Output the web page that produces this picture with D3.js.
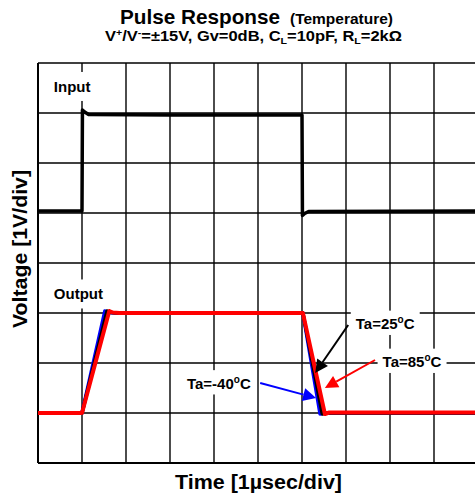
<!DOCTYPE html>
<html><head><meta charset="utf-8">
<script src="https://cdn.jsdelivr.net/npm/d3@7"></script>
<style>
html,body{margin:0;padding:0;background:#fff;}
svg{display:block;font-family:"Liberation Sans",Arial,sans-serif;font-weight:bold;}
</style></head>
<body><svg id="c" width="475" height="500"></svg>
<script>
// time in divisions (1 µs/div), voltage in divisions (1 V/div), measured from bottom of screen
const xDivs = [0,1,2,3,4,5,6,7,8,9,10];
const yDivs = [0,1,2,3,4,5,6,7,8];

const inputT = [0, 1.0, 1.01, 1.06, 1.15, 3.0, 6.0, 6.01, 6.06, 6.15, 10.2];
const inputV = [5.04, 5.04, 7.06, 7.02, 6.97, 6.96, 6.96, 4.95, 4.99, 5.03, 5.04];

const outBlueT  = [0, 1.0, 1.52, 1.6, 1.75, 6.02, 6.41, 6.5, 10.2];
const outBlueV  = [1.0, 1.0, 3.04, 3.01, 3.0, 3.0, 0.98, 1.0, 1.0];
const outBlackT = [0, 1.0, 1.57, 1.65, 1.8, 6.02, 6.46, 6.55, 10.2];
const outBlackV = [1.0, 1.0, 3.04, 3.01, 3.0, 3.0, 0.98, 1.0, 1.0];
const outRedT   = [0, 1.0, 1.62, 1.7, 1.85, 6.02, 6.52, 6.62, 10.2];
const outRedV   = [1.0, 1.0, 3.04, 3.01, 3.0, 3.0, 0.98, 1.01, 1.01];

const annLabels = ["Ta=25", "Ta=85", "Ta=-40"];
const annColors = ["#000", "#f00", "#00f"];
const annTextT = [7.89, 8.5, 4.11];
const annTextV = [2.76, 2.0, 1.57];
const annFromT = [7.05, 7.66, 5.05];
const annFromV = [2.76, 2.06, 1.60];
const annToT   = [6.30, 6.52, 6.32];
const annToV   = [1.80, 1.50, 1.30];

const traceLabels = ["Input", "Output"];
const traceLabelT = [0.36, 0.36];
const traceLabelV = [7.5, 3.35];

const svg = d3.select("#c");
const x = d3.scaleLinear().domain([0,10]).range([38,478]);
const y = d3.scaleLinear().domain([0,8]).range([463,63]);

// grid
const g = svg.append("g");
g.selectAll(".vx").data(xDivs).join("line")
  .attr("x1", d=>x(d)).attr("x2", d=>x(d)).attr("y1", y(8)).attr("y2", y(0))
  .attr("stroke", "#000").attr("stroke-width", d=>d===0?2:1.4);
g.selectAll(".hy").data(yDivs).join("line")
  .attr("y1", d=>y(d)).attr("y2", d=>y(d)).attr("x1", x(0)).attr("x2", x(10))
  .attr("stroke", "#000").attr("stroke-width", d=>(d===0)?2:1.4);

traceLabels.forEach((l,i)=>{
  const t = svg.append("text").attr("x", x(traceLabelT[i])).attr("y", y(traceLabelV[i]))
    .attr("font-size", 15).attr("dominant-baseline","middle").text(l);
  const b = t.node().getBBox();
  svg.insert("rect", "text").attr("x", b.x-5).attr("y", b.y-6).attr("width", b.width+10).attr("height", b.height+12).attr("fill","#fff");
});

const line = d3.line().x(d=>x(d[0])).y(d=>y(d[1]));
const zip = (a,b)=>a.map((v,i)=>[v,b[i]]);

svg.append("path").datum(zip(inputT,inputV)).attr("d", line)
  .attr("fill","none").attr("stroke","#000").attr("stroke-width",3.5).attr("stroke-linejoin","round");
svg.append("path").datum(zip(outBlueT,outBlueV)).attr("d", line)
  .attr("fill","none").attr("stroke","#00f").attr("stroke-width",3.5).attr("stroke-linejoin","round");
svg.append("path").datum(zip(outBlackT,outBlackV)).attr("d", line)
  .attr("fill","none").attr("stroke","#000").attr("stroke-width",3.5).attr("stroke-linejoin","round");
svg.append("path").datum(zip(outRedT,outRedV)).attr("d", line)
  .attr("fill","none").attr("stroke","#f00").attr("stroke-width",4).attr("stroke-linejoin","round");

// annotations
annLabels.forEach((l,i)=>{
  const t = svg.append("text").attr("x", x(annTextT[i])).attr("y", y(annTextV[i]))
    .attr("font-size", 15).attr("text-anchor","middle").attr("dominant-baseline","middle");
  t.append("tspan").text(l);
  t.append("tspan").attr("font-size", 10).attr("dy", -5).text("o");
  t.append("tspan").attr("dy", 5).text("C");
  const b = t.node().getBBox();
  svg.insert("rect", "text").attr("x", b.x-5).attr("y", b.y-3).attr("width", b.width+10).attr("height", b.height+6).attr("fill","#fff");
  const x1 = x(annFromT[i]), y1 = y(annFromV[i]), x2 = x(annToT[i]), y2 = y(annToV[i]);
  const ang = Math.atan2(y2-y1, x2-x1);
  const hl = 13, hw = 6.5;
  const bx = x2 - hl*Math.cos(ang), by = y2 - hl*Math.sin(ang);
  svg.append("line").attr("x1",x1).attr("y1",y1).attr("x2",bx).attr("y2",by)
    .attr("stroke",annColors[i]).attr("stroke-width",2);
  const px = -Math.sin(ang), py = Math.cos(ang);
  svg.append("path").attr("d", `M${x2},${y2}L${bx+hw*px},${by+hw*py}L${bx-hw*px},${by-hw*py}Z`)
    .attr("fill", annColors[i]);
});

// titles
svg.append("text").attr("x", 120).attr("y", 24).attr("font-size", 20.5)
  .attr("textLength", 160).attr("lengthAdjust","spacingAndGlyphs").text("Pulse Response");
svg.append("text").attr("x", 290).attr("y", 24).attr("font-size", 15)
  .attr("textLength", 103).attr("lengthAdjust","spacingAndGlyphs").text("(Temperature)");

const sub = svg.append("text").attr("x", 105).attr("y", 41).attr("font-size", 14)
  .attr("textLength", 297).attr("lengthAdjust","spacingAndGlyphs");
sub.append("tspan").text("V");
sub.append("tspan").attr("font-size", 9).attr("dy", -5).text("+");
sub.append("tspan").attr("dy", 5).text("/V");
sub.append("tspan").attr("font-size", 9).attr("dy", -5).text("-");
sub.append("tspan").attr("dy", 5).text("=±15V, Gv=0dB, C");
sub.append("tspan").attr("font-size", 9).attr("dy", 3).text("L");
sub.append("tspan").attr("dy", -3).text("=10pF, R");
sub.append("tspan").attr("font-size", 9).attr("dy", 3).text("L");
sub.append("tspan").attr("dy", -3).text("=2kΩ");

svg.append("text").attr("x", 175).attr("y", 489).attr("font-size", 20)
  .attr("textLength", 167).attr("lengthAdjust","spacingAndGlyphs").text("Time [1µsec/div]");
svg.append("text").attr("transform","translate(27,328) rotate(-90)").attr("font-size", 20)
  .attr("textLength", 158).attr("lengthAdjust","spacingAndGlyphs").text("Voltage [1V/div]");
</script></body></html>
